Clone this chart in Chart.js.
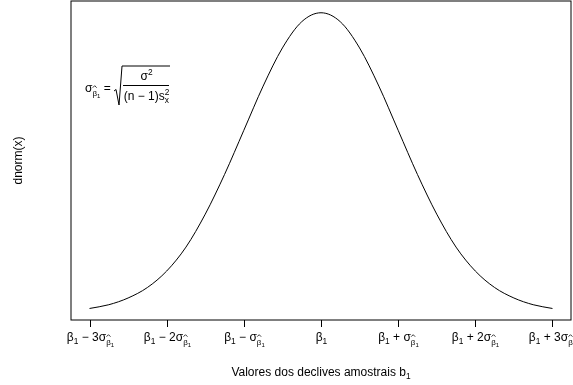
<!DOCTYPE html>
<html>
<head>
<meta charset="utf-8">
<script src="https://cdn.jsdelivr.net/npm/chart.js@4"></script>
<style>
  html, body { margin: 0; padding: 0; background: #fff; }
  #wrap { width: 573px; height: 385px; }
</style>
</head>
<body>
<div id="wrap"><canvas id="c" width="573" height="385"></canvas></div>
<script>
// Standardised slope values (in units of the estimator's standard error)
const xValues = [-3, -2.75, -2.5, -2.25, -2, -1.75, -1.5, -1.25, -1, -0.75, -0.5, -0.25,
                 0, 0.25, 0.5, 0.75, 1, 1.25, 1.5, 1.75, 2, 2.25, 2.5, 2.75, 3];
// Density height at each of those values
const densityValues = [0.004, 0.009, 0.018, 0.032, 0.054, 0.086, 0.130, 0.183, 0.242, 0.301, 0.352, 0.387,
                       0.399, 0.387, 0.352, 0.301, 0.242, 0.183, 0.130, 0.086, 0.054, 0.032, 0.018, 0.009, 0.004];
// Tick positions and their multiples of the standard error
const tickValues = [-3, -2, -1, 0, 1, 2, 3];
const tickSigns = ['−', '−', '−', '', '+', '+', '+'];
const tickCoefs = ['3', '2', '', '', '', '2', '3'];
const xTitle = 'Valores dos declives amostrais b';
const xTitleSub = '1';
const yTitle = 'dnorm(x)';

const FONT = '"Liberation Sans", Arial, Helvetica, sans-serif';

function f(size) { return size + 'px ' + FONT; }

// Text runs with sub/superscript offsets
function richWidth(ctx, parts) {
  let w = 0;
  for (const p of parts) { ctx.font = f(p.s); w += ctx.measureText(p.t).width; }
  return w;
}
function drawRich(ctx, parts, x, y, align) {
  const w = richWidth(ctx, parts);
  let cx = align === 'center' ? x - w / 2 : x;
  ctx.textAlign = 'left';
  ctx.textBaseline = 'alphabetic';
  for (const p of parts) {
    ctx.font = f(p.s);
    const pw = ctx.measureText(p.t).width;
    ctx.fillText(p.t, cx, y + (p.dy || 0));
    if (p.hat) {
      // small circumflex above the glyph
      const top = y + (p.dy || 0) - p.s * 0.95 - 2.2;
      const mid = cx + pw / 2;
      ctx.save();
      ctx.lineWidth = 0.8;
      ctx.beginPath();
      ctx.moveTo(mid - 2, top + 2);
      ctx.lineTo(mid, top);
      ctx.lineTo(mid + 2, top + 2);
      ctx.stroke();
      ctx.restore();
    }
    cx += pw;
  }
  return w;
}

function tickParts(i) {
  const parts = [{ t: 'β', s: 12 }, { t: '1', s: 8.4, dy: 3 }];
  if (tickSigns[i] !== '') {
    parts.push({ t: ' ' + tickSigns[i] + ' ' + tickCoefs[i] + 'σ', s: 12 });
    parts.push({ t: 'β', s: 8, dy: 3.5, hat: true });
    parts.push({ t: '1', s: 6, dy: 5.5 });
  }
  return parts;
}

const annotations = {
  id: 'annotations',
  afterDraw(chart) {
    const ctx = chart.ctx;
    const a = chart.chartArea;
    const xs = chart.scales.x;
    ctx.save();
    ctx.strokeStyle = '#000';
    ctx.fillStyle = '#000';
    ctx.lineWidth = 1;

    // plot frame
    ctx.strokeRect(a.left, a.top, a.right - a.left, a.bottom - a.top);

    // tick marks and labels on the x axis
    tickValues.forEach((v, i) => {
      const px = Math.round(xs.getPixelForValue(v)) + 0.5;
      ctx.beginPath();
      ctx.moveTo(px, a.bottom);
      ctx.lineTo(px, a.bottom + 7);
      ctx.stroke();
      drawRich(ctx, tickParts(i), px, a.bottom + 21, 'center');
    });

    // axis titles
    drawRich(ctx, [{ t: xTitle, s: 12 }, { t: xTitleSub, s: 8.4, dy: 3 }],
             (a.left + a.right) / 2, a.bottom + 56, 'center');
    ctx.save();
    ctx.translate(22, (a.top + a.bottom) / 2);
    ctx.rotate(-Math.PI / 2);
    ctx.font = f(12);
    ctx.textAlign = 'center';
    ctx.textBaseline = 'alphabetic';
    ctx.fillText(yTitle, 0, 0);
    ctx.restore();

    // standard error formula
    const base = 92;
    let x = 85;
    x += drawRich(ctx, [{ t: 'σ', s: 12 }, { t: 'β', s: 8, dy: 3.5, hat: true }, { t: '1', s: 6, dy: 5.5 }], x, base, 'left');
    ctx.font = f(12);
    ctx.fillText(' = ', x, base);
    x += ctx.measureText(' = ').width;
    const rx = x;
    const topY = 66, botY = 105, fracEnd = 170;
    ctx.lineWidth = 1;
    ctx.beginPath();
    ctx.moveTo(rx, 91);
    ctx.lineTo(rx + 2, 89.5);
    ctx.lineTo(rx + 5, botY);
    ctx.lineTo(rx + 8, topY);
    ctx.lineTo(fracEnd, topY);
    ctx.stroke();
    const fx0 = rx + 9;
    const fcx = (fx0 + fracEnd) / 2;
    ctx.beginPath();
    ctx.moveTo(fx0, 85.5);
    ctx.lineTo(fracEnd - 1, 85.5);
    ctx.stroke();
    drawRich(ctx, [{ t: 'σ', s: 12 }, { t: '2', s: 8.4, dy: -5 }], fcx, 80, 'center');
    // denominator: (n − 1) s with stacked superscript 2 and subscript x
    const denA = '(n − 1)s';
    ctx.font = f(12);
    const wA = ctx.measureText(denA).width;
    ctx.font = f(8.4);
    const wB = Math.max(ctx.measureText('2').width, ctx.measureText('x').width);
    const dx0 = fcx - (wA + wB) / 2;
    ctx.font = f(12);
    ctx.fillText(denA, dx0, 100);
    ctx.font = f(8.4);
    ctx.fillText('2', dx0 + wA, 95);
    ctx.fillText('x', dx0 + wA, 103);
    ctx.restore();
  }
};

new Chart(document.getElementById('c'), {
  type: 'line',
  data: {
    datasets: [{
      data: xValues.map((v, i) => ({ x: v, y: densityValues[i] })),
      borderColor: '#000',
      borderWidth: 1,
      pointRadius: 0,
      fill: false,
      cubicInterpolationMode: 'monotone'
    }]
  },
  options: {
    responsive: false,
    animation: false,
    layout: { padding: { left: 71, right: 2, top: 1, bottom: 65 } },
    plugins: { legend: { display: false }, tooltip: { enabled: false } },
    scales: {
      x: { type: 'linear', min: -3.24, max: 3.24, display: false },
      y: { type: 'linear', min: -0.0114, max: 0.4147, display: false }
    }
  },
  plugins: [annotations]
});
</script>
</body>
</html>
